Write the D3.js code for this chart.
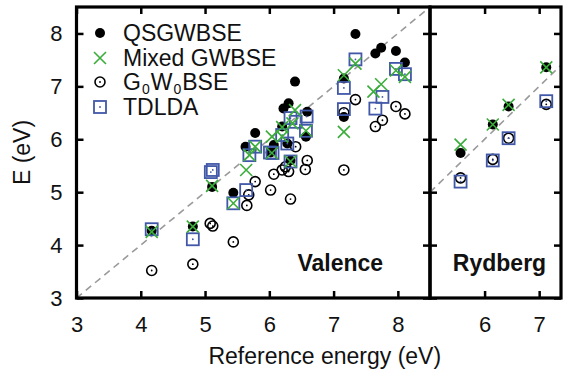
<!DOCTYPE html>
<html>
<head>
<script src="https://d3js.org/d3.v7.min.js"></script>
<style>
  body {margin: 0; background: #fff; font-family: "Liberation Sans", Arial, sans-serif;}
  svg text {fill: #111;}
</style>
</head>
<body>
<script>
// ---- data (reference energy, computed energy) in eV ----
const valenceQSGW = [[4.17,4.27],[4.81,4.35],[5.11,5.10],[5.44,4.99],[5.63,5.86],[5.78,6.12],
  [6.02,5.75],[6.07,5.89],[6.20,6.24],[6.22,6.58],[6.28,5.92],[6.30,6.68],[6.33,5.60],[6.40,7.09],
  [6.57,6.05],[6.59,6.52],[7.16,7.15],[7.16,6.42],[7.34,7.99],[7.65,7.62],[7.74,7.73],[7.97,7.67],[8.11,7.45]];
const valenceMixed = [[4.17,4.25],[4.81,4.35],[5.11,5.12],[5.44,4.79],[5.64,5.42],[5.69,5.70],
  [5.78,5.86],[6.04,6.05],[6.04,5.74],[6.20,6.23],[6.20,6.05],[6.33,5.58],[6.36,6.30],[6.40,6.55],
  [6.57,6.16],[7.16,7.21],[7.16,6.14],[7.34,7.43],[7.62,6.90],[7.74,7.04],[7.97,7.30],[8.11,7.18]];
const valenceG0W0 = [[4.17,3.52],[4.81,3.64],[5.08,4.41],[5.12,4.36],[5.44,4.06],[5.65,4.75],
  [5.68,4.95],[5.78,5.20],[6.02,5.04],[6.07,5.34],[6.20,5.42],[6.25,5.48],[6.30,5.39],[6.33,4.87],
  [6.41,5.86],[6.56,5.43],[6.59,5.60],[7.16,5.42],[7.16,6.50],[7.34,6.75],[7.65,6.24],[7.76,6.36],
  [7.97,6.62],[8.11,6.48]];
const valenceTDLDA = [[4.17,4.30],[4.81,4.11],[5.09,5.38],[5.12,5.42],[5.44,4.79],[5.64,5.04],
  [5.69,5.70],[5.78,5.86],[6.01,5.75],[6.05,5.74],[6.20,6.08],[6.28,5.92],[6.33,5.58],[6.33,6.40],
  [6.41,6.33],[6.58,6.43],[6.57,6.16],[7.16,6.97],[7.16,6.57],[7.34,7.51],[7.65,6.58],[7.76,6.80],
  [7.97,7.33],[8.11,7.23]];

const rydbergRef   = [5.56, 6.15, 6.44, 7.13];
const rydbergQSGW  = [5.74, 6.28, 6.62, 7.36];
const rydbergMixed = [5.90, 6.28, 6.65, 7.36];
const rydbergG0W0  = [5.27, 5.62, 6.02, 6.66];
const rydbergTDLDA = [5.20, 5.60, 6.02, 6.72];

const yTicks = [3, 4, 5, 6, 7, 8];
const valenceXTicks = [3, 4, 5, 6, 7, 8];
const rydbergXTicks = [6, 7];
const legendNames = ["QSGWBSE", "Mixed GWBSE", "G0W0BSE", "TDLDA"];

// ---- layout ----
const W = 570, H = 371;
const pTop = 7, pBottom = 298, pLeft = 76.5, pMid = 430, pRight = 561;
const green = "#3aad3a", blue = "#4158a8";

const svg = d3.select("body").append("svg").attr("width", W).attr("height", H);

const y = d3.scaleLinear().domain([3, 8.5]).range([pBottom, pTop]);
const xV = d3.scaleLinear().domain([3, 8.5]).range([pLeft, pMid]);
const xR = d3.scaleLinear().domain([5, 7.4]).range([pMid, pRight]);

function toPairs(ref, vals) { return ref.map((r, i) => [r, vals[i]]); }

function panel(x, xTicks, series, label, showY) {
  const [x0, x1] = x.range();
  const g = svg.append("g");
  const clipId = "clip" + Math.round(x0);
  svg.append("clipPath").attr("id", clipId)
    .append("rect").attr("x", x0).attr("y", pTop).attr("width", x1 - x0).attr("height", pBottom - pTop);

  // diagonal y = x
  const d0 = Math.max(x.domain()[0], 3), d1 = Math.min(x.domain()[1], 8.5);
  g.append("line")
    .attr("x1", x(d0)).attr("y1", y(d0)).attr("x2", x(d1)).attr("y2", y(d1))
    .attr("stroke", "#9a9a9a").attr("stroke-width", 1.6).attr("stroke-dasharray", "7,5");

  const pts = g.append("g").attr("clip-path", `url(#${clipId})`);
  // QSGWBSE
  pts.selectAll("circle.q").data(series.q).join("circle")
    .attr("cx", d => x(d[0])).attr("cy", d => y(d[1])).attr("r", 5).attr("fill", "#000");
  // G0W0BSE
  const gg = pts.selectAll("g.g").data(series.g).join("g")
    .attr("transform", d => `translate(${x(d[0])},${y(d[1])})`);
  gg.append("circle").attr("r", 5).attr("fill", "none").attr("stroke", "#000").attr("stroke-width", 1.6);
  gg.append("circle").attr("r", 0.9).attr("fill", "#000");
  // TDLDA
  const tt = pts.selectAll("g.t").data(series.t).join("g")
    .attr("transform", d => `translate(${x(d[0])},${y(d[1])})`);
  tt.append("rect").attr("x", -6).attr("y", -6).attr("width", 12).attr("height", 12)
    .attr("fill", "none").attr("stroke", blue).attr("stroke-width", 1.8);
  tt.append("circle").attr("r", 0.9).attr("fill", blue);
  // Mixed GWBSE
  pts.selectAll("path.m").data(series.m).join("path")
    .attr("transform", d => `translate(${x(d[0])},${y(d[1])})`)
    .attr("d", "M-6,-6L6,6M-6,6L6,-6")
    .attr("stroke", green).attr("stroke-width", 1.6).attr("fill", "none");

  // inward ticks on all four sides
  const tl = 7;
  g.append("g").attr("transform", `translate(0,${pBottom})`)
    .call(d3.axisBottom(x).tickValues(xTicks).tickSize(-tl).tickPadding(tl + 11).tickFormat(d3.format("d")));
  g.append("g").attr("transform", `translate(0,${pTop})`)
    .call(d3.axisTop(x).tickValues(xTicks).tickSize(-tl).tickFormat(""));
  g.append("g").attr("transform", `translate(${x0},0)`)
    .call(d3.axisLeft(y).tickValues(yTicks).tickSize(-tl).tickPadding(tl + 7).tickFormat(showY ? d3.format("d") : ""));
  g.append("g").attr("transform", `translate(${x1},0)`)
    .call(d3.axisRight(y).tickValues(yTicks).tickSize(-tl).tickFormat(""));
  g.selectAll(".domain").remove();
  g.selectAll(".tick line").attr("stroke", "#000").attr("stroke-width", 2.5);
  g.selectAll(".tick text").attr("font-size", 22).attr("font-family", "Liberation Sans, Arial, sans-serif").attr("fill", "#111");

  g.append("rect").attr("x", x0).attr("y", pTop).attr("width", x1 - x0).attr("height", pBottom - pTop)
    .attr("fill", "none").attr("stroke", "#000").attr("stroke-width", 3.2);

  g.append("text").attr("x", (x0 + x1) / 2 + label.dx).attr("y", 271)
    .attr("text-anchor", "middle").attr("font-size", 23).attr("font-weight", "bold").text(label.text);
}

panel(xV, valenceXTicks, {q: valenceQSGW, m: valenceMixed, g: valenceG0W0, t: valenceTDLDA},
  {text: "Valence", dx: 87}, true);
panel(xR, rydbergXTicks, {
  q: toPairs(rydbergRef, rydbergQSGW), m: toPairs(rydbergRef, rydbergMixed),
  g: toPairs(rydbergRef, rydbergG0W0), t: toPairs(rydbergRef, rydbergTDLDA)},
  {text: "Rydberg", dx: 4}, false);

// axis titles
svg.append("text").attr("x", (pLeft + pRight) / 2 + 6).attr("y", 364).attr("text-anchor", "middle")
  .attr("font-size", 23).text("Reference energy (eV)");
svg.append("text").attr("transform", `translate(30,${(pTop + pBottom) / 2}) rotate(-90)`)
  .attr("text-anchor", "middle").attr("font-size", 23).text("E (eV)");

// legend
const lx = 100, ly = [33, 58, 82, 107];
const lg = svg.append("g");
lg.append("circle").attr("cx", lx).attr("cy", ly[0]).attr("r", 5).attr("fill", "#000");
lg.append("path").attr("d", `M${lx-6},${ly[1]-6}L${lx+6},${ly[1]+6}M${lx-6},${ly[1]+6}L${lx+6},${ly[1]-6}`)
  .attr("stroke", green).attr("stroke-width", 1.6);
lg.append("circle").attr("cx", lx).attr("cy", ly[2]).attr("r", 5).attr("fill", "none").attr("stroke", "#000").attr("stroke-width", 1.6);
lg.append("circle").attr("cx", lx).attr("cy", ly[2]).attr("r", 0.9).attr("fill", "#000");
lg.append("rect").attr("x", lx - 6).attr("y", ly[3] - 6).attr("width", 12).attr("height", 12)
  .attr("fill", "none").attr("stroke", blue).attr("stroke-width", 1.8);
lg.append("circle").attr("cx", lx).attr("cy", ly[3]).attr("r", 0.9).attr("fill", blue);

legendNames.forEach((name, i) => {
  const t = lg.append("text").attr("x", 123).attr("y", ly[i] + 8).attr("font-size", 23);
  if (name === "G0W0BSE") {
    t.append("tspan").text("G");
    t.append("tspan").attr("font-size", 14).attr("dx", 1).attr("dy", 4).text("0");
    t.append("tspan").attr("dx", 1).attr("dy", -4).text("W");
    t.append("tspan").attr("font-size", 14).attr("dx", 1).attr("dy", 4).text("0");
    t.append("tspan").attr("dx", 1).attr("dy", -4).text("BSE");
  } else {
    t.text(name);
  }
});
</script>
</body>
</html>
